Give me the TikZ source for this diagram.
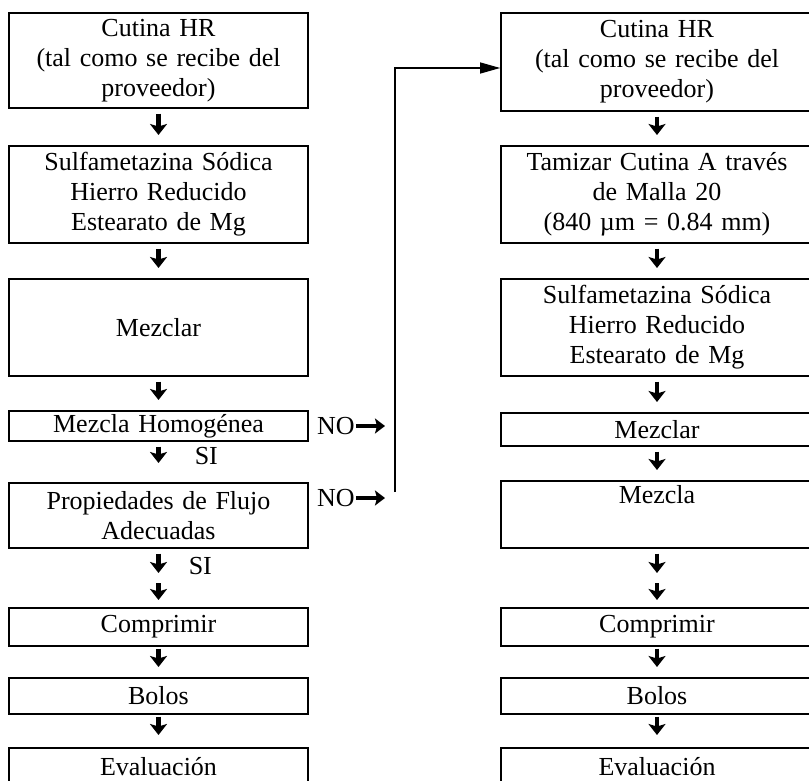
\documentclass[tikz,border=0pt]{standalone}
\usepackage{fontspec}
\setmainfont{Liberation Serif}
\usepackage{tikz}
\usetikzlibrary{positioning, arrows.meta}

\tikzset{
  stepbox/.style={draw, line width=1.6pt, inner sep=2pt, align=center, anchor=north,
    font=\fontsize{26}{30}\selectfont},
  lbox/.style={stepbox, text width=295pt},
  rbox/.style={stepbox, text width=308pt},
  downarr/.style={line width=4.5pt, -{Stealth[length=11pt, width=17pt, inset=2.5pt]},
    shorten <=5pt, shorten >=10pt},
  noarr/.style={line width=3.5pt, -{Stealth[length=10pt, width=15pt, inset=2pt]},
    shorten >=10pt},
  lbl/.style={inner sep=1pt, font=\fontsize{26}{30}\selectfont},
}

\begin{document}
\begin{tikzpicture}[x=1pt, y=-1pt]
    \useasboundingbox (0,0) rectangle (809,781);
    \clip (0,0) rectangle (809,781);

    % Left column
    \node[lbox, minimum height=95] (L1) at (158.5,12) {Cutina HR\\(tal como se recibe del\\proveedor)};
    \node[lbox, minimum height=97] (L2) at (158.5,145) {Sulfametazina Sódica\\Hierro Reducido\\Estearato de Mg};
    \node[lbox, minimum height=97] (L3) at (158.5,278) {Mezclar};
    \node[lbox, minimum height=30] (L4) at (158.5,410) {Mezcla Homogénea};
    \node[lbox, minimum height=65] (L5) at (158.5,482) {Propiedades de Flujo\\Adecuadas};

    % Right column
    \node[rbox, minimum height=98] (R1) at (657,12) {Cutina HR\\(tal como se recibe del\\proveedor)};
    \node[rbox, minimum height=97] (R2) at (657,145) {Tamizar Cutina A través\\de Malla 20\\(840 µm = 0.84 mm)};
    \node[rbox, minimum height=97] (R3) at (657,278) {Sulfametazina Sódica\\Hierro Reducido\\Estearato de Mg};
    \node[rbox, minimum height=33] (R4) at (657,412) {Mezclar};
    \node[rbox, minimum height=67] (R5) at (657,480) {Mezcla\\\strut};

    % Last three steps, same on both sides
    \foreach \s/\t/\y/\h in {6/Comprimir/607/38, 7/Bolos/677/36, 8/Evaluación/747/38} {
      \node[lbox, minimum height=\h] (L\s) at (158.5,\y) {\t};
      \node[rbox, minimum height=\h] (R\s) at (657,\y) {\t};
    }

    % Arrows down
    \foreach \a/\b in {L1/L2, L2/L3, L3/L4, R1/R2, R2/R3, R3/R4, R4/R5} {
      \draw[downarr] (\a.south) -- (\b.north);
    }
    \draw[downarr, shorten >=19pt] (L4.south) -- node[lbl, pos=0.35, right=33pt] {SI} (L5.north);

    \coordinate (Lmid) at (158.5,577);
    \coordinate (Rmid) at (657,577);
    \draw[downarr, shorten >=4pt] (L5.south) -- node[lbl, pos=0.6, right=27pt] {SI} (Lmid);
    \draw[downarr, shorten <=6pt, shorten >=7pt] (Lmid) -- (L6.north);
    \draw[downarr, shorten >=4pt] (R5.south) -- (Rmid);
    \draw[downarr, shorten <=6pt, shorten >=7pt] (Rmid) -- (R6.north);

    \foreach \c in {L, R} {
      \draw[downarr, shorten <=2pt] (\c6.south) -- (\c7.north);
      \draw[downarr, shorten <=2pt, shorten >=12pt] (\c7.south) -- (\c8.north);
    }

    % NO branches and the way back
    \node[lbl, anchor=west] (no1) at (316,426) {NO};
    \node[lbl, anchor=west] (no2) at (316,498) {NO};
    \coordinate (fbtop) at (395,68);
    \coordinate (fbbot) at (395,492);
    \draw[noarr] (no1.east) -- (no1.east -| fbtop);
    \draw[noarr] (no2.east) -- (no2.east -| fbtop);
    \draw[line width=1.2pt, -{Triangle[length=20pt, width=11pt]}] (fbbot) -- (fbtop) -- (fbtop -| R1.west);

\end{tikzpicture}
\end{document}
